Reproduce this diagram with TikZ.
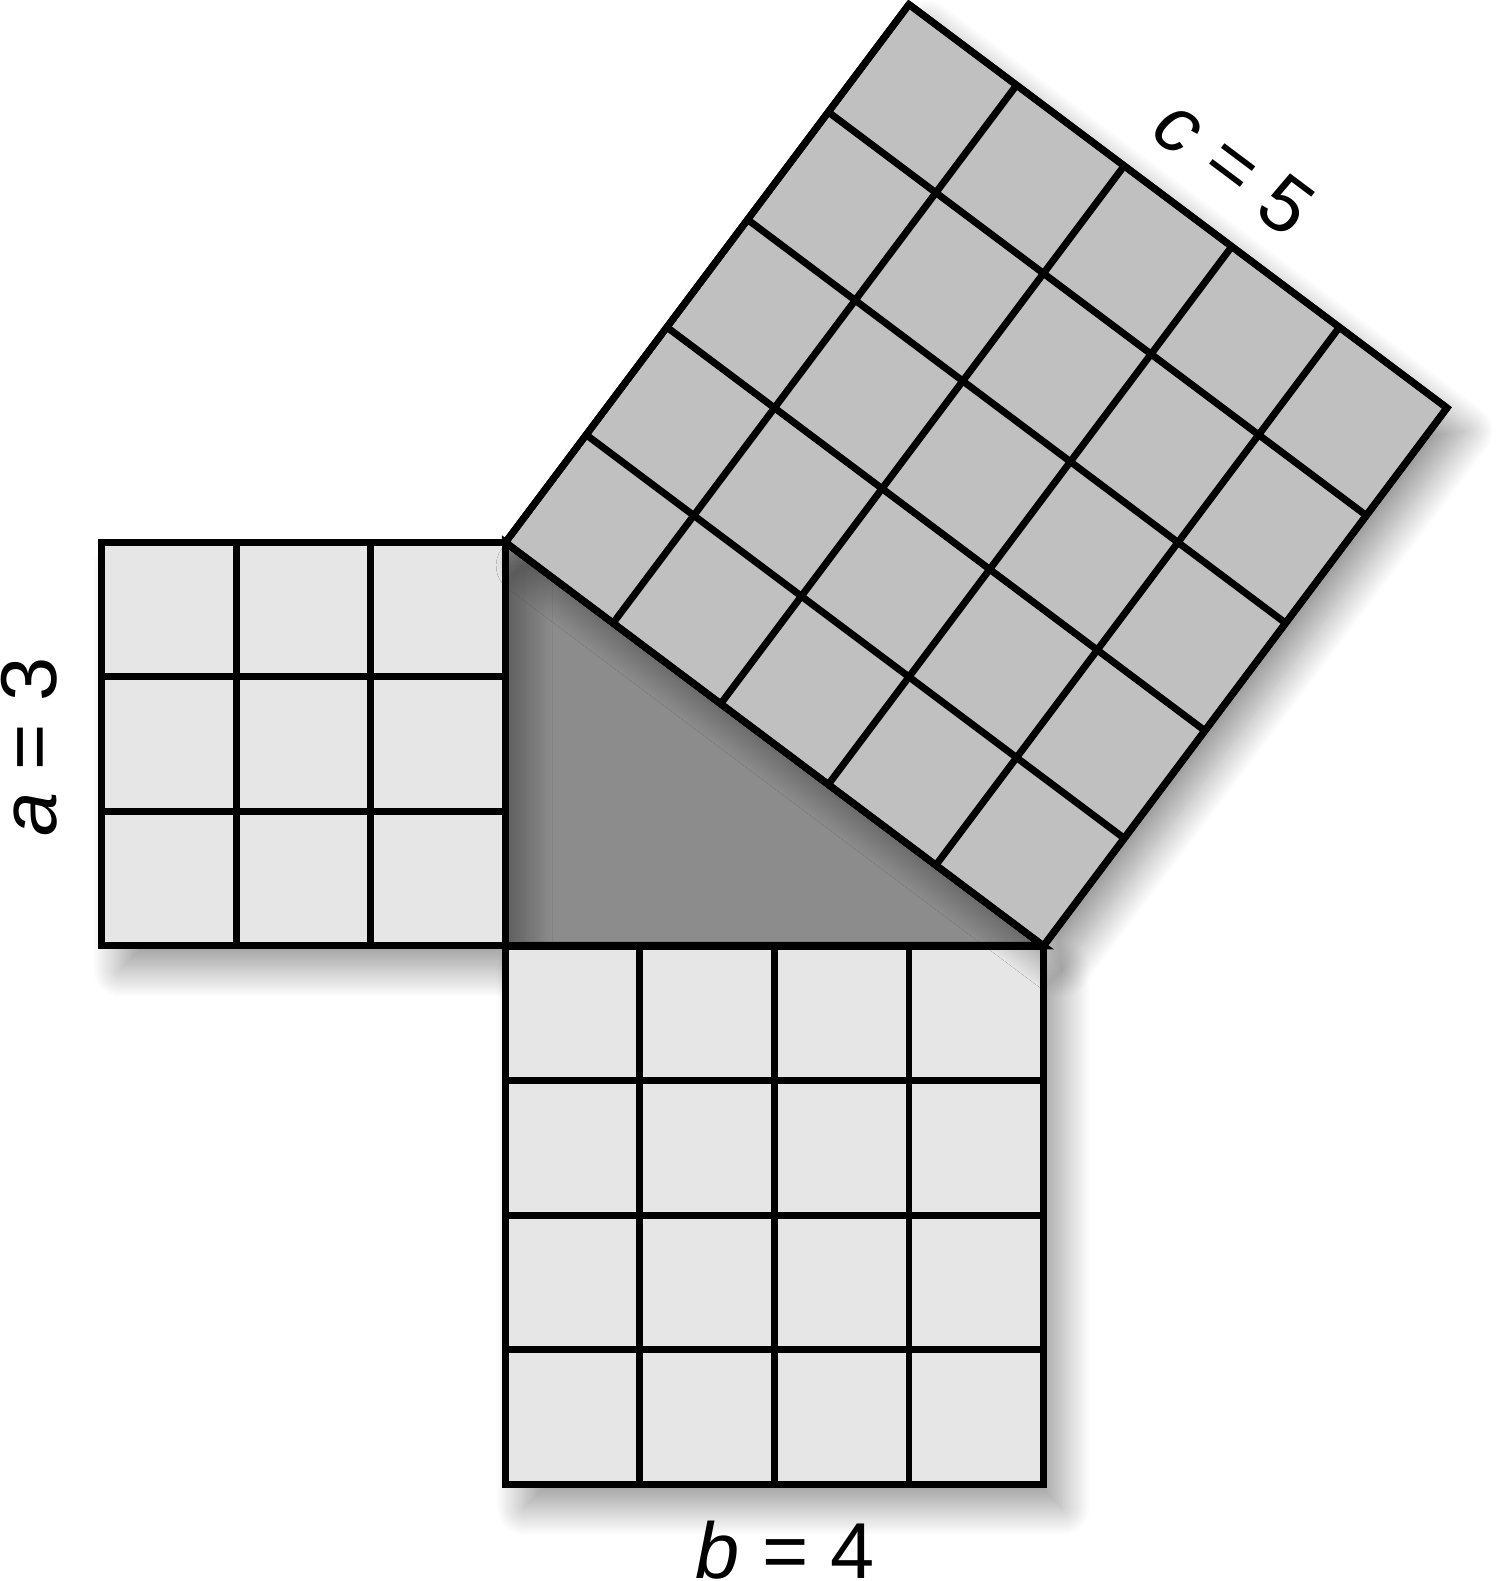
\documentclass[tikz,border=0pt]{standalone}
\usepackage{fontspec}
\setmainfont{Liberation Sans}
\usetikzlibrary{shadows.blur}
\definecolor{tri}{HTML}{8C8C8C}
\definecolor{light}{HTML}{E6E6E6}
\definecolor{mid}{HTML}{C0C0C0}
\tikzset{
  sq/.style={draw=black, line width=1.5pt,
    blur shadow={shadow xshift=4pt, shadow yshift=-5pt,
      shadow blur radius=6pt, shadow blur steps=30, shadow opacity=40}},
  gridline/.style={line width=1.5pt},
  lbl/.style={font=\fontsize{17}{20}\selectfont, inner sep=0pt}
}
\begin{document}
\begin{tikzpicture}[scale=1.0134, line join=miter]
    % the corners of the triangle
    \coordinate (A) at (0,3);
    \coordinate (B) at (0,0);
    \coordinate (C) at (4,0);

    % draw the triangle
    \filldraw[fill=tri, line width=1.5pt] (A) -- (B) -- (C) -- cycle;

    % draw the square on a
    \filldraw[sq, fill=light] (-3,0) rectangle (A);
    \draw[gridline] (-3,0) grid (0,3);

    % draw the square on b
    \filldraw[sq, fill=light] (0,-4) rectangle (C);
    \draw[gridline] (0,-4) grid (4,0);

    % draw the square on c
    \filldraw[sq, fill=mid] (A) -- (C) -- (7,4) -- (3,7) -- cycle;
    \begin{scope}[shift={(A)}, rotate=-36.8699]
      \draw[gridline] (0,0) grid (5,5);
    \end{scope}

    % the side labels
    \node[lbl, anchor=base, rotate=90] (la) at (-3.335,1.48) {\textit{a} = 3};
    \node[lbl, anchor=base] (lb) at (2.08,-4.70) {\textit{b} = 4};
    \node[lbl, anchor=base, rotate=-36.8699] (lc) at (5.3,5.64) {\textit{c} = 5};

    % fix the page to the reference margins
    \pgfresetboundingbox
    \useasboundingbox (-3.758,-4.721) rectangle (7.394,7.033);
\end{tikzpicture}
\end{document}
